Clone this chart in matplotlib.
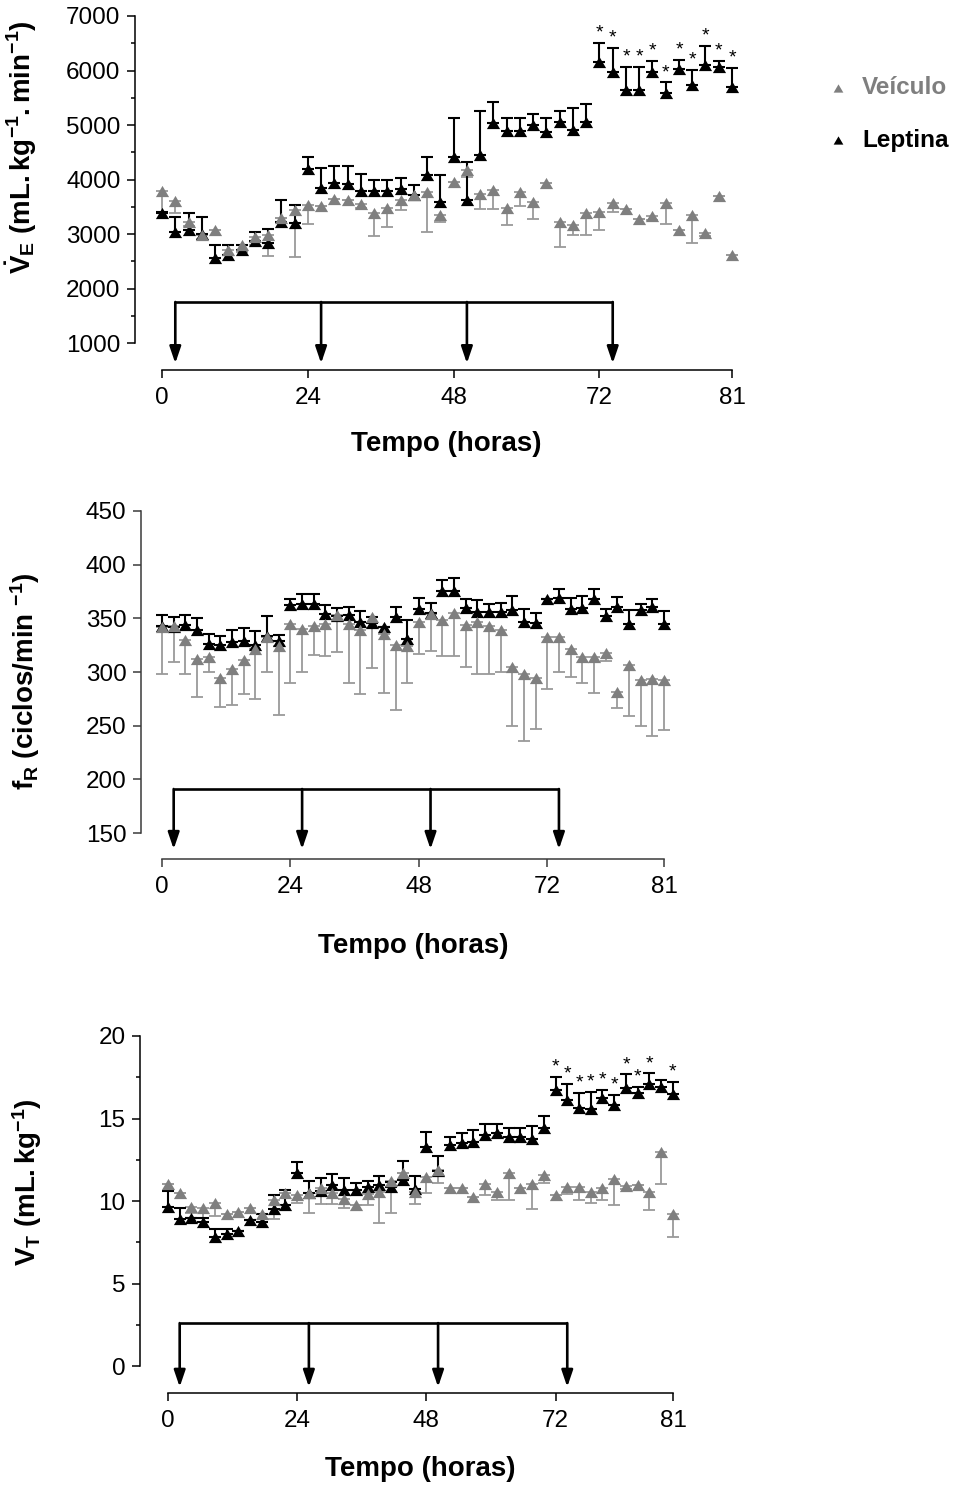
import numpy as np
import matplotlib
matplotlib.use("Agg")
import matplotlib.pyplot as plt
from matplotlib.lines import Line2D
from matplotlib.ticker import MultipleLocator

plt.rcParams["font.family"] = ["Liberation Sans", "DejaVu Sans"]
plt.rcParams["mathtext.fontset"] = "custom"
plt.rcParams["mathtext.rm"] = "Liberation Sans"
plt.rcParams["mathtext.bf"] = "Liberation Sans:bold"
plt.rcParams["mathtext.it"] = "Liberation Sans:italic"

# eixo x: 44 registros; rótulos em horas
tick_pos = [0, 11, 22, 33, 43]
tick_lab = ["0", "24", "48", "72", "81"]
doses = [1, 12, 23, 34]          # índices das injeções (setas)

# ---- VE (mL.kg-1.min-1) ----
ve_lep = [3380, 3030, 3080, 3000, 2560, 2620, 2700, 2870, 2830, 3220, 3200,
          4200, 3840, 3930, 3920, 3780, 3790, 3790, 3820, 3720, 4080, 3590,
          4420, 3630, 4450, 5030, 4890, 4890, 5000, 4880, 5060, 4910, 5060,
          6160, 5980, 5640, 5640, 5980, 5580, 6020, 5730, 6100, 6070, 5700]
ve_lep_err = [30, 290, 300, 310, 230, 170, 100, 170, 260, 400, 330,
              220, 380, 310, 330, 330, 210, 200, 200, 180, 340, 500,
              700, 700, 810, 400, 230, 230, 200, 240, 200, 400, 320,
              340, 430, 420, 420, 200, 200, 180, 280, 350, 100, 340]
ve_veh = [3780, 3610, 3220, 2990, 3080, 2700, 2790, 2950, 2990, 3300, 3440,
          3530, 3520, 3650, 3620, 3550, 3380, 3470, 3620, 3710, 3770, 3350,
          3960, 4180, 3740, 3800, 3470, 3770, 3580, 3930, 3220, 3160, 3380,
          3410, 3560, 3450, 3280, 3330, 3560, 3070, 3350, 3010, 3690, 2610]
ve_veh_err = [380, 220, 80, 80, 0, 80, 120, 150, 400, 0, 860,
              340, 0, 0, 0, 80, 420, 340, 180, 0, 730, 130,
              0, 130, 290, 350, 310, 260, 300, 0, 460, 170, 400,
              340, 150, 0, 0, 70, 370, 0, 510, 50, 0, 0]
ve_star = list(range(33, 44))

# ---- fR (ciclos/min) ----
fr_lep = [342.5, 342, 343.5, 339.4, 326.4, 324.8, 328, 328.9, 324.8, 334,
          328.9, 362, 363, 363.7, 353.7, 351.8, 352.8, 346.6, 345.6, 341.9,
          351.2, 331, 359, 355, 375.5, 375.5, 360, 355.9, 355.9, 355.9,
          357.4, 346.6, 345.6, 368.3, 369.2, 358.4, 360, 368.3, 351.8, 360.6,
          345, 357.4, 360.6, 345]
fr_lep_err = [11, 9, 10, 11, 9, 9, 11, 12, 13, 18, 6, 6, 10, 9, 9, 8, 8, 10,
              6, 0, 9, 17, 10, 9, 10, 12, 8, 11, 7, 8, 13, 12, 9, 0, 8, 11,
              11, 9, 7, 9, 13, 6, 7, 12]
fr_veh = [342, 343, 330, 312.4, 314, 294.7, 303, 311.5, 321.7, 332.6, 323.9,
          344.4, 340.4, 342.5, 345, 352.8, 344.4, 338.8, 351.2, 335, 324.8,
          323.9, 346.6, 354.3, 348, 355, 343.5, 346.6, 342.5, 339.4, 304.6,
          297.8, 294.7, 332.6, 332.6, 321.7, 314, 314, 317.7, 281.3, 306.2,
          292.8, 293.8, 292.2]
fr_veh_err = [44, 34, 32, 36, 14, 27, 34, 32, 47, 33, 64, 55, 40, 27, 30, 34,
              55, 59, 47, 55, 60, 34, 30, 35, 33, 40, 39, 48, 44, 39, 55, 62,
              48, 48, 33, 26, 24, 34, 7, 15, 47, 43, 53, 46]

# ---- VT (mL.kg-1) ----
vt_lep = [9.65, 8.88, 9.0, 8.74, 7.79, 8.03, 8.19, 8.84, 8.74, 9.49, 9.75,
          11.67, 10.5, 10.6, 11.0, 10.66, 10.66, 10.86, 10.96, 10.86, 11.3,
          10.7, 13.29, 11.8, 13.39, 13.49, 13.59, 14.0, 14.14, 13.89, 13.89,
          13.73, 14.4, 16.72, 16.12, 15.61, 15.55, 16.26, 15.81, 16.87, 16.56,
          17.09, 16.93, 16.48]
vt_lep_err = [0.97, 0.67, 0, 0.25, 0.54, 0.3, 0, 0, 0.5, 0.87, 0.91, 0.67,
              0.72, 0.77, 0.63, 0.71, 0.46, 0.34, 0.54, 0.3, 1.1, 0.83, 0.91,
              0.94, 0.51, 0.61, 0.71, 0.64, 0.52, 0.51, 0.55, 0.81, 0.75,
              0.81, 0.97, 0.95, 1.07, 0.46, 0.61, 0.8, 0.37, 0.64, 0.4, 0.75]
vt_veh = [11.06, 10.5, 9.65, 9.6, 9.85, 9.2, 9.34, 9.55, 9.24, 10.05, 10.5,
          10.36, 10.5, 10.76, 10.5, 10.15, 9.75, 10.42, 10.56, 11.2, 11.67,
          10.56, 11.47, 11.87, 10.76, 10.76, 10.25, 11.06, 10.56, 11.67,
          10.76, 11.06, 11.57, 10.36, 10.86, 10.86, 10.56, 10.76, 11.31,
          10.9, 11.0, 10.56, 12.98, 9.24]
vt_veh_err = [0, 0, 0.37, 0.62, 0.77, 0, 0, 0, 0, 1.17, 0, 0.51, 1.2, 0.95,
              0.69, 0.55, 0, 0.67, 1.92, 1.95, 0, 0.75, 1.01, 0.75, 0, 0, 0,
              0.7, 0.47, 1.62, 0, 1.57, 0.47, 0, 0.44, 0.81, 0.71, 0.71,
              1.56, 0.2, 0, 1.11, 1.92, 1.45]
vt_star = [33, 34, 35, 36, 37, 38, 39, 40, 41, 43]

W, H = 959, 1485
GRAY = "#7f7f7f"
GRAY_BAR = "#9a9a9a"
TRI = [(-1, -0.85), (1, -0.85), (0, 0.85), (-1, -0.85)]


def box(l, r, t, b):
    return [l / W, 1 - b / H, (r - l) / W, (b - t) / H]


panels = [
    dict(rect=box(135, 745, 16, 370), xlim=(-2.04, 43.98), ylim=(504.6, 7000),
         span=(1000, 7000), major=1000, minor=500, lep=ve_lep, lep_err=ve_lep_err,
         veh=ve_veh, veh_err=ve_veh_err, star=ve_star, line_y=1752, tip_y=627,
         ylabel=r"$\mathbf{\dot{V}_E\ (mL.kg^{-1}.min^{-1})}$",
         ylab_xy=(-0.158, 0.63), xlab_xy=(0.51, -0.172), spine="black"),
    dict(rect=box(141, 675, 511, 859), xlim=(-1.80, 43.94), ylim=(125.8, 450),
         span=(150, 450), major=50, minor=None, lep=fr_lep, lep_err=fr_lep_err,
         veh=fr_veh, veh_err=fr_veh_err, star=[], line_y=191, tip_y=135,
         ylabel=r"$\mathbf{f_R\ (ciclos/min\ ^{-1})}$",
         ylab_xy=(-0.185, 0.51), xlab_xy=(0.509, -0.213), spine="#3a3a3a"),
    dict(rect=box(140, 684, 1036, 1393), xlim=(-2.38, 43.94), ylim=(-1.636, 20),
         span=(0, 20), major=5, minor=2.5, lep=vt_lep, lep_err=vt_lep_err,
         veh=vt_veh, veh_err=vt_veh_err, star=vt_star, line_y=2.6, tip_y=-1.27,
         ylabel=r"$\mathbf{V_T\ (mL.kg^{-1})}$",
         ylab_xy=(-0.176, 0.59), xlab_xy=(0.515, -0.176), spine="black"),
]

fig = plt.figure(figsize=(W / 100, H / 100), dpi=100)

for p in panels:
    ax = fig.add_axes(p["rect"])
    x = np.arange(len(p["lep"]))
    lep = np.array(p["lep"])
    lep_err = np.array(p["lep_err"])
    veh = np.array(p["veh"])
    veh_err = np.array(p["veh_err"])

    # veículo: erro para baixo; leptina: erro para cima
    ax.errorbar(x, veh, yerr=[veh_err, np.zeros_like(veh_err)], fmt="none",
                ecolor=GRAY_BAR, elinewidth=1.3, capsize=4.4, capthick=1.3,
                zorder=2, clip_on=False)
    ax.errorbar(x, lep, yerr=[np.zeros_like(lep_err), lep_err], fmt="none",
                ecolor="black", elinewidth=1.5, capsize=4.4, capthick=1.5,
                zorder=3, clip_on=False)
    ax.plot(x, lep, ls="none", marker=TRI, ms=9.5, color="black", mew=0,
            zorder=4, clip_on=False)
    ax.plot(x, veh, ls="none", marker=TRI, ms=9.5, color=GRAY, mew=0,
            zorder=5, clip_on=False)

    for i in p["star"]:
        ax.annotate("*", (i, lep[i] + lep_err[i]), xytext=(0, 1),
                    textcoords="offset points", ha="center", va="bottom",
                    fontsize=14, zorder=6)

    # esquema de injeções
    ax.plot([doses[0], doses[-1]], [p["line_y"]] * 2, color="black", lw=1.9,
            solid_capstyle="butt", zorder=1)
    for d in doses:
        ax.annotate("", xy=(d, p["tip_y"]), xytext=(d, p["line_y"]),
                    arrowprops=dict(arrowstyle="-|>,head_length=0.5,head_width=0.17",
                                    lw=1.9, color="black", shrinkA=0, shrinkB=0,
                                    mutation_scale=20), zorder=1)

    ax.set_xlim(*p["xlim"])
    ax.set_ylim(*p["ylim"])
    for s in ("top", "right"):
        ax.spines[s].set_visible(False)
    ax.spines["left"].set_bounds(*p["span"])
    ax.spines["bottom"].set_bounds(tick_pos[0], tick_pos[-1])
    for s in ("left", "bottom"):
        ax.spines[s].set_linewidth(1.1)
        ax.spines[s].set_color(p["spine"])
    ax.set_yticks(np.arange(p["span"][0], p["span"][1] + 1e-9, p["major"]))
    ax.set_xticks(tick_pos)
    ax.set_xticklabels(tick_lab)
    ax.tick_params(axis="both", which="major", direction="out", length=5.5,
                   width=1.1, labelsize=17.5, color=p["spine"], pad=5)
    ax.tick_params(axis="x", pad=7)
    if p["minor"]:
        ax.yaxis.set_minor_locator(MultipleLocator(p["minor"]))
        ax.tick_params(axis="y", which="minor", direction="out", length=3,
                       width=1.1, color=p["spine"])
    ax.set_ylabel(p["ylabel"], fontsize=20)
    ax.yaxis.set_label_coords(*p["ylab_xy"])
    ax.set_xlabel("Tempo (horas)", fontsize=20, fontweight="bold")
    ax.xaxis.set_label_coords(*p["xlab_xy"])
    ax.patch.set_alpha(0)

# legenda
for yy, lab, col in [(88, "Veículo", GRAY), (140, "Leptina", "black")]:
    fig.add_artist(Line2D([838 / W], [1 - yy / H], transform=fig.transFigure,
                          marker=TRI, ms=7, color=col, ls="none", mew=0))
    fig.text(862 / W, 1 - yy / H, lab, color=col, fontsize=17.5,
             fontweight="bold", ha="left", va="center")

fig.savefig("out.png", dpi=100)
